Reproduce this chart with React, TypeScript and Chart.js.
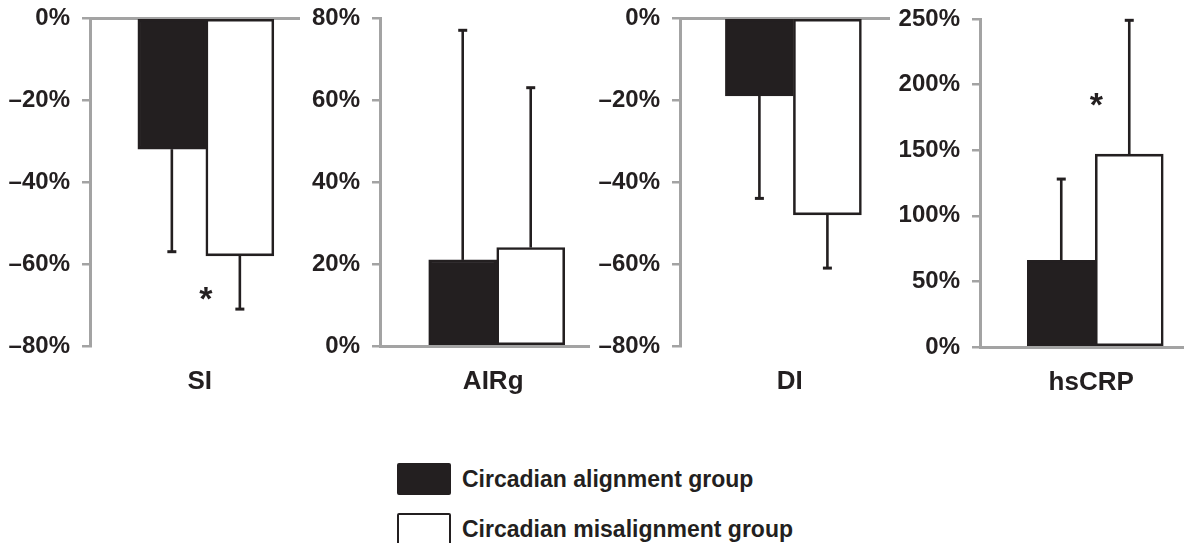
import React, { useEffect, useRef } from 'react';
import { Chart, registerables } from 'chart.js';

Chart.register(...registerables);

// ---------- data ----------
const categories = ['SI', 'AIRg', 'DI', 'hsCRP'];
const alignmentMeans = [-32, 21, -19, 66];
const alignmentErrors = [25, 56, 25, 62];
const misalignmentMeans = [-58, 24, -48, 147];
const misalignmentErrors = [13, 39, 13, 102];
const axisMin = [-80, 0, -80, 0];
const axisMax = [0, 80, 0, 250];
const axisStep = [20, 20, 20, 50];
const significanceY: (number | null)[] = [-67.5, null, null, 188];
const seriesNames = ['Circadian alignment group', 'Circadian misalignment group'];

// ---------- styling / layout ----------
const INK = '#231f20';
const AXIS_GRAY = '#a3a3a3';
const FONT = "'Liberation Sans', Arial, Helvetica, sans-serif";
const CANVAS_H = 400;

const panels = [
  { left: 0, width: 300, axisWidth: 90, center: 0.562, labelAt: 0.545, starAt: 0.562, top: 18, bottom: 346 },
  { left: 300, width: 290, axisWidth: 80, center: 0.567, labelAt: 0.578, starAt: 0.567, top: 18, bottom: 346 },
  { left: 590, width: 300, axisWidth: 90, center: 0.548, labelAt: 0.545, starAt: 0.548, top: 18, bottom: 346 },
  { left: 890, width: 294, axisWidth: 90, center: 0.578, labelAt: 0.59, starAt: 0.585, top: 19, bottom: 347 },
];

const fmtPct = (v: number) => (v < 0 ? '\u2013' + Math.abs(v) + '%' : v + '%');

const errorBarPlugin = {
  id: 'errorBars',
  afterDatasetsDraw(chart: any) {
    const ctx = chart.ctx;
    const yScale = chart.scales.y;
    chart.data.datasets.forEach((ds: any, di: number) => {
      const meta = chart.getDatasetMeta(di);
      meta.data.forEach((bar: any, i: number) => {
        const v = ds.data[i].y;
        const e = ds.errors[i];
        const end = v + (v < 0 ? -e : e);
        const y0 = yScale.getPixelForValue(v);
        const y1 = yScale.getPixelForValue(end);
        ctx.save();
        ctx.strokeStyle = INK;
        ctx.lineWidth = 2.6;
        ctx.beginPath();
        ctx.moveTo(bar.x, y0);
        ctx.lineTo(bar.x, y1);
        ctx.stroke();
        ctx.lineWidth = 3;
        ctx.beginPath();
        ctx.moveTo(bar.x - 4.5, y1);
        ctx.lineTo(bar.x + 4.5, y1);
        ctx.stroke();
        ctx.restore();
      });
    });
  },
};

const significancePlugin = {
  id: 'significance',
  afterDatasetsDraw(chart: any, _args: any, opts: any) {
    if (opts == null || opts.y == null) return;
    const ctx = chart.ctx;
    const x = chart.scales.x.getPixelForValue(opts.x);
    const y = chart.scales.y.getPixelForValue(opts.y);
    const size = 34;
    ctx.save();
    ctx.fillStyle = INK;
    ctx.font = `bold ${size}px ${FONT}`;
    ctx.textAlign = 'center';
    ctx.textBaseline = 'alphabetic';
    ctx.fillText('*', x, y + size * 0.46);
    ctx.restore();
  },
};

function Panel({ index }: { index: number }) {
  const ref = useRef<HTMLCanvasElement | null>(null);
  const p = panels[index];
  useEffect(() => {
    if (!ref.current) return;
    const negative = axisMax[index] <= 0;
    const chart = new Chart(ref.current, {
      type: 'bar',
      data: {
        datasets: [
          {
            label: seriesNames[0],
            data: [{ x: p.center, y: alignmentMeans[index] }],
            errors: [alignmentErrors[index]],
            backgroundColor: INK,
            borderColor: INK,
            borderWidth: 2.6,
            borderSkipped: false,
          } as any,
          {
            label: seriesNames[1],
            data: [{ x: p.center, y: misalignmentMeans[index] }],
            errors: [misalignmentErrors[index]],
            backgroundColor: '#ffffff',
            borderColor: INK,
            borderWidth: 2.6,
            borderSkipped: false,
          } as any,
        ],
      },
      options: {
        animation: false,
        responsive: false,
        maintainAspectRatio: false,
        layout: { padding: { top: p.top, left: 0, right: 0, bottom: 0 } },
        datasets: { bar: { barThickness: 68, grouped: true } as any },
        scales: {
          x: {
            type: 'linear',
            min: 0,
            max: 1,
            position: negative ? 'top' : 'bottom',
            weight: 0,
            ticks: { display: false },
            grid: { display: false, drawTicks: false },
            border: { display: true, color: AXIS_GRAY, width: 3 },
            afterFit: (s: any) => {
              s.height = 0;
              s.paddingTop = 0;
              s.paddingBottom = 0;
            },
          } as any,
          xl: {
            type: 'linear',
            axis: 'x',
            min: 0,
            max: 1,
            position: 'bottom',
            weight: 10,
            border: { display: false },
            grid: { display: false, drawTicks: false },
            afterBuildTicks: (s: any) => {
              s.ticks = [{ value: p.labelAt }];
            },
            ticks: {
              callback: () => categories[index],
              font: { size: 26, weight: 'bold', family: FONT },
              color: INK,
              padding: 20,
              maxRotation: 0,
              autoSkip: false,
            },
            afterFit: (s: any) => {
              s.height = CANVAS_H - p.bottom;
              s.paddingLeft = 0;
              s.paddingRight = 0;
            },
          } as any,
          y: {
            min: axisMin[index],
            max: axisMax[index],
            ticks: {
              stepSize: axisStep[index],
              callback: (v: any) => fmtPct(Number(v)),
              font: { size: 24, weight: 'bold', family: FONT },
              color: INK,
              padding: 12,
            },
            grid: {
              display: true,
              drawOnChartArea: false,
              drawTicks: true,
              tickLength: 8,
              color: AXIS_GRAY,
              lineWidth: 2.5,
            },
            border: { display: true, color: AXIS_GRAY, width: 3 },
            afterFit: (s: any) => {
              s.width = p.axisWidth;
              s.paddingTop = 0;
              s.paddingBottom = 0;
            },
          } as any,
        },
        plugins: {
          legend: { display: false },
          tooltip: { enabled: false },
          significance: { x: p.starAt, y: significanceY[index] },
        } as any,
      },
      plugins: [errorBarPlugin, significancePlugin],
    } as any);
    return () => chart.destroy();
  }, [index]);

  return (
    <div style={{ position: 'absolute', left: p.left, top: 0, width: p.width, height: CANVAS_H }}>
      <canvas ref={ref} width={p.width} height={CANVAS_H} style={{ display: 'block' }} />
    </div>
  );
}

function LegendRow({ top, filled, text }: { top: number; filled: boolean; text: string }) {
  return (
    <div
      style={{
        position: 'absolute',
        left: 397,
        top,
        height: 32,
        display: 'flex',
        alignItems: 'center',
        whiteSpace: 'nowrap',
      }}
    >
      <div
        style={{
          width: 54,
          height: 32,
          boxSizing: 'border-box',
          background: filled ? INK : '#ffffff',
          border: `2.6px solid ${INK}`,
          borderRadius: 2,
        }}
      />
      <span
        style={{
          marginLeft: 11,
          fontFamily: FONT,
          fontWeight: 'bold',
          fontSize: 23,
          color: INK,
          lineHeight: '32px',
        }}
      >
        {text}
      </span>
    </div>
  );
}

export default function App() {
  return (
    <div
      style={{
        position: 'absolute',
        left: 0,
        top: 0,
        width: 1184,
        height: 543,
        overflow: 'hidden',
        background: '#ffffff',
      }}
    >
      {categories.map((_, i) => (
        <Panel key={i} index={i} />
      ))}
      <LegendRow top={463} filled={true} text={seriesNames[0]} />
      <LegendRow top={513} filled={false} text={seriesNames[1]} />
    </div>
  );
}
